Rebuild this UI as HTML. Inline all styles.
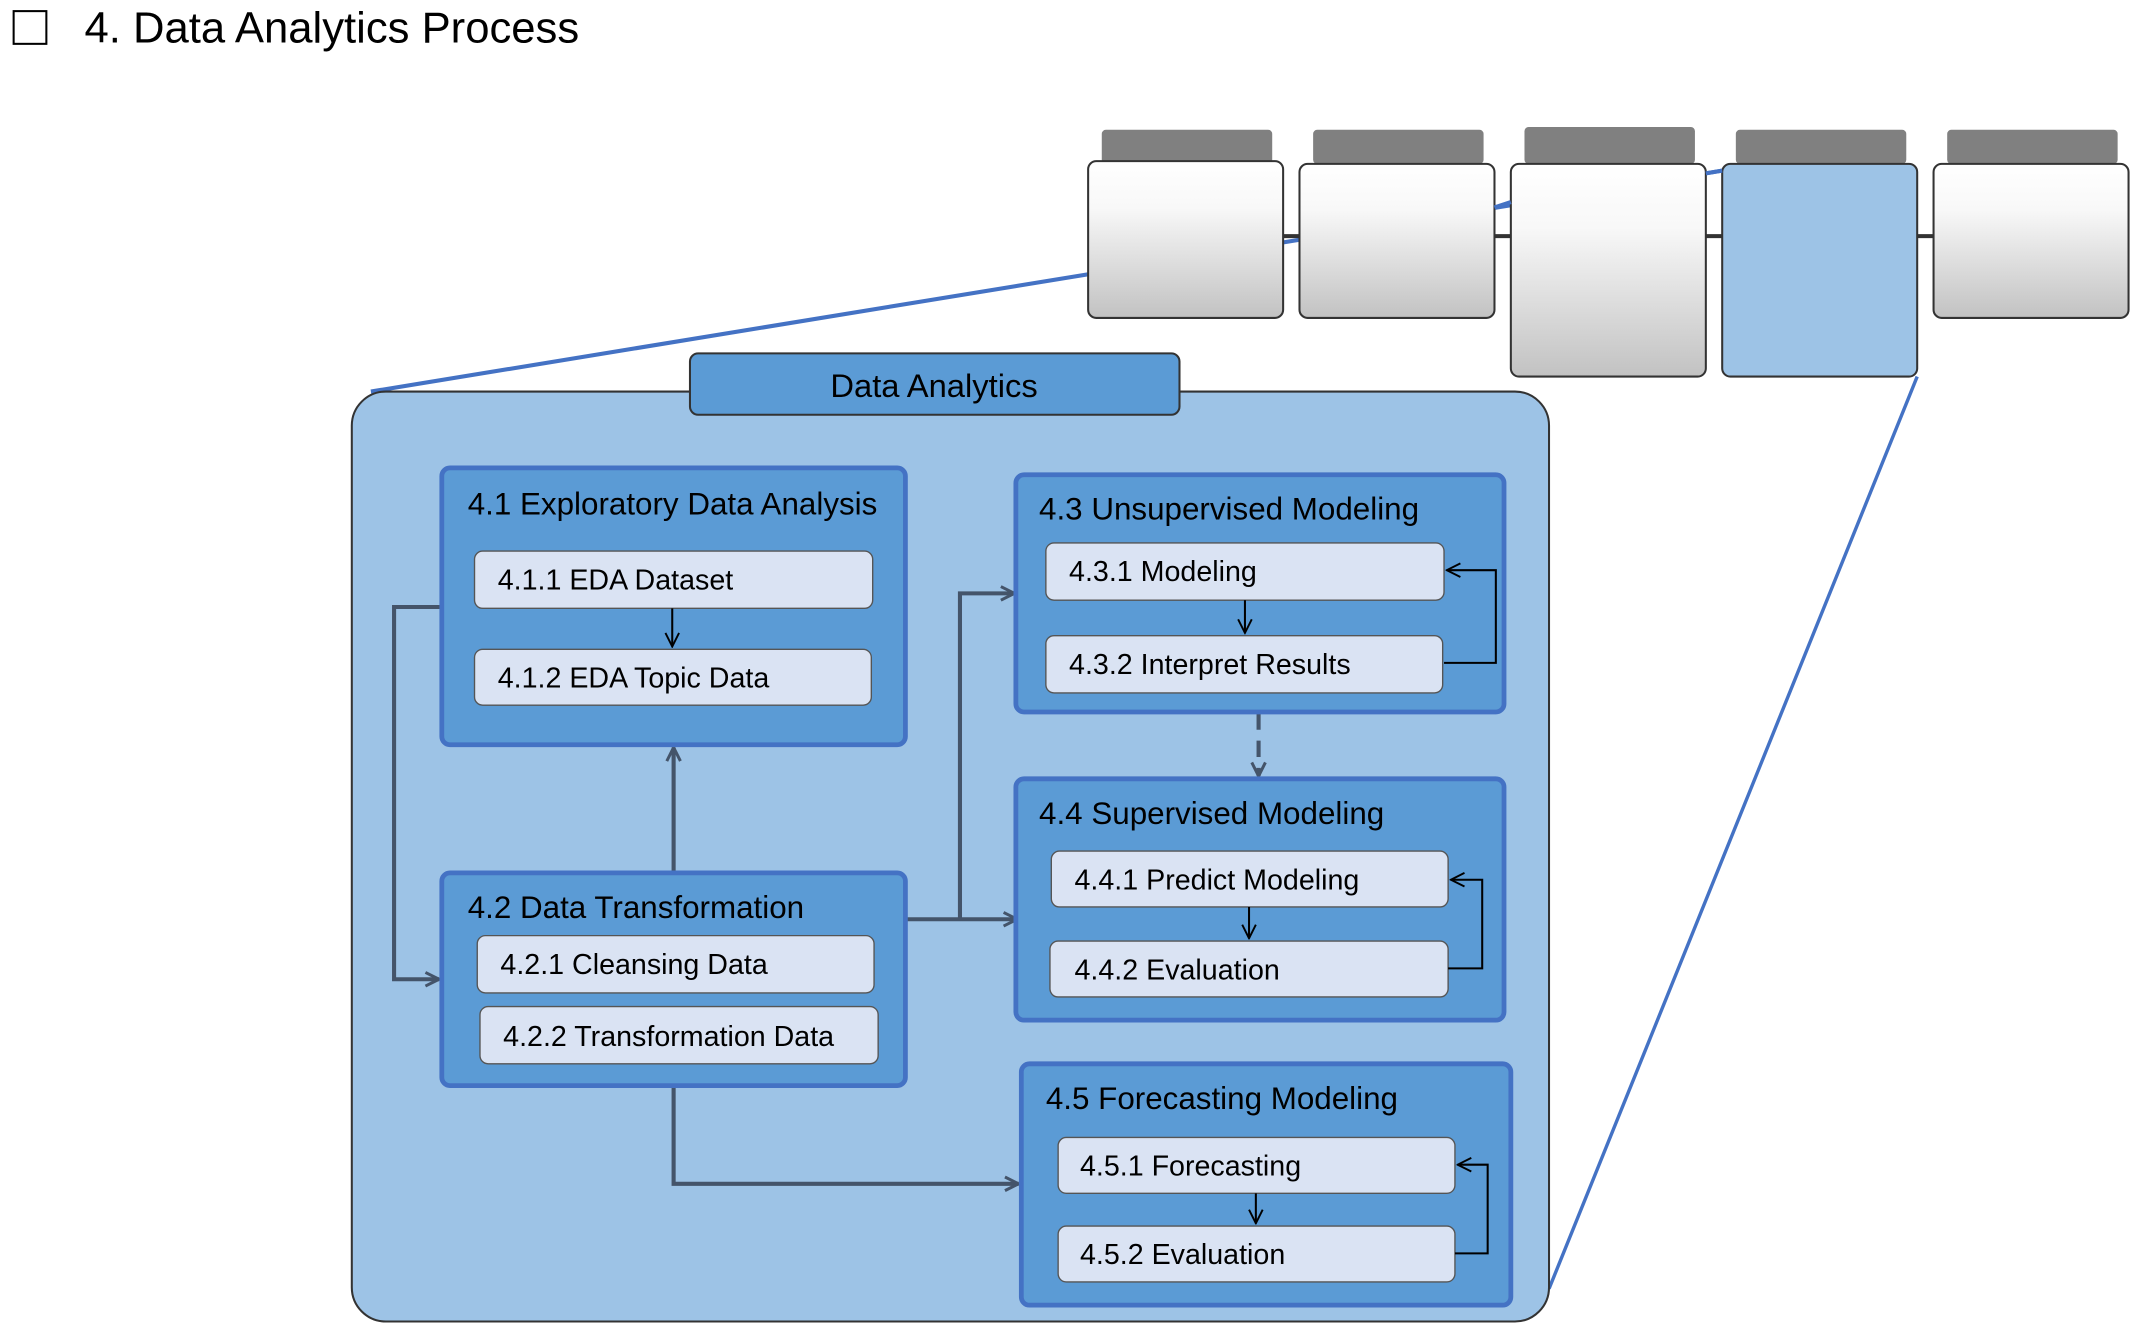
<!DOCTYPE html>
<html><head><meta charset="utf-8"><style>
html,body{margin:0;padding:0;background:#fff;}
svg{display:block;}
text{font-family:"Liberation Sans","NanumGothic",sans-serif;fill:#000;}
</style></head><body>
<svg width="2134" height="1334" viewBox="0 0 1565 978" xmlns="http://www.w3.org/2000/svg">
<defs>
<linearGradient id="g" x1="0" y1="0" x2="0" y2="1"><stop offset="0" stop-color="#ffffff"/><stop offset="0.3" stop-color="#f8f8f8"/><stop offset="1" stop-color="#c2c2c2"/></linearGradient>
<marker id="a" viewBox="0 0 12 12" refX="11" refY="6" markerWidth="12" markerHeight="12" markerUnits="userSpaceOnUse" orient="auto"><path d="M1,1 L11,6 L1,11" fill="none" stroke="#44546A" stroke-width="2.2"/></marker>
<marker id="b" viewBox="0 0 12 12" refX="11" refY="6" markerWidth="12" markerHeight="12" markerUnits="userSpaceOnUse" orient="auto"><path d="M1,1 L11,6 L1,11" fill="none" stroke="#000" stroke-width="1.4"/></marker>
</defs>
<rect x="10" y="8" width="24" height="24" fill="none" stroke="#000" stroke-width="1.5"/>
<text x="62" y="31" font-size="32">4. Data Analytics Process</text>

<!-- zoom lines -->
<line x1="272" y1="287" x2="1263" y2="125" stroke="#4472C4" stroke-width="3"/>
<line x1="1406" y1="276" x2="1136" y2="945" stroke="#4472C4" stroke-width="2.5"/>
<!-- top connector -->
<line x1="941" y1="173" x2="1418" y2="173" stroke="#333" stroke-width="3"/>
<g fill="#808080">
<rect x="808" y="95" width="125" height="25" rx="3"/>
<rect x="963" y="95" width="125" height="25" rx="3"/>
<rect x="1118" y="93" width="125" height="27" rx="3"/>
<rect x="1273" y="95" width="125" height="25" rx="3"/>
<rect x="1428" y="95" width="125" height="25" rx="3"/>
</g>
<g stroke="#333" stroke-width="1.5">
<rect x="798" y="118" width="143" height="115" rx="6" fill="url(#g)"/>
<rect x="953" y="120" width="143" height="113" rx="6" fill="url(#g)"/>
<rect x="1108" y="120" width="143" height="156" rx="6" fill="url(#g)"/>
<rect x="1263" y="120" width="143" height="156" rx="6" fill="#9DC3E6"/>
<rect x="1418" y="120" width="143" height="113" rx="6" fill="url(#g)"/>
</g>
<line x1="1096" y1="152" x2="1108" y2="148" stroke="#4472C4" stroke-width="3"/>
<line x1="1251" y1="127" x2="1263" y2="125" stroke="#4472C4" stroke-width="3"/>

<!-- main container -->
<rect x="258" y="287" width="878" height="682" rx="25" fill="#9DC3E6" stroke="#333" stroke-width="1.5"/>
<rect x="506" y="259" width="359" height="45" rx="6" fill="#5B9BD5" stroke="#333" stroke-width="1.5"/>
<text x="685" y="291" font-size="24" text-anchor="middle">Data Analytics</text>

<!-- connectors -->
<g fill="none" stroke="#44546A" stroke-width="3">
<polyline points="324,445 289,445 289,718 322,718" marker-end="url(#a)"/>
<line x1="494" y1="640" x2="494" y2="548" marker-end="url(#a)"/>
<polyline points="664,674 746,674" marker-end="url(#a)"/>
<polyline points="704,674 704,435 744,435" marker-end="url(#a)"/>
<polyline points="494,796 494,868 747,868" marker-end="url(#a)"/>
<line x1="923" y1="523" x2="923" y2="569" stroke-dasharray="12,8" marker-end="url(#a)"/>
</g>

<!-- groups -->
<g fill="#5B9BD5" stroke="#4472C4" stroke-width="3.5">
<rect x="324" y="343" width="340" height="203" rx="6"/>
<rect x="324" y="640" width="340" height="156" rx="6"/>
<rect x="745" y="348" width="358" height="174" rx="6"/>
<rect x="745" y="571" width="358" height="177" rx="6"/>
<rect x="749" y="780" width="359" height="177" rx="6"/>
</g>
<g font-size="23">
<text x="343" y="377">4.1 Exploratory Data Analysis</text>
<text x="343" y="673">4.2 Data Transformation</text>
<text x="762" y="381">4.3 Unsupervised Modeling</text>
<text x="762" y="604">4.4 Supervised Modeling</text>
<text x="767" y="813">4.5 Forecasting Modeling</text>
</g>
<g fill="#DAE3F3" stroke="#555" stroke-width="1">
<rect x="348" y="404" width="292" height="42" rx="6"/>
<rect x="348" y="476" width="291" height="41" rx="6"/>
<rect x="350" y="686" width="291" height="42" rx="6"/>
<rect x="352" y="738" width="292" height="42" rx="6"/>
<rect x="767" y="398" width="292" height="42" rx="6"/>
<rect x="767" y="466" width="291" height="42" rx="6"/>
<rect x="771" y="624" width="291" height="41" rx="6"/>
<rect x="770" y="690" width="292" height="41" rx="6"/>
<rect x="776" y="834" width="291" height="41" rx="6"/>
<rect x="776" y="899" width="291" height="41" rx="6"/>
</g>
<g font-size="21">
<text x="365" y="432">4.1.1 EDA Dataset</text>
<text x="365" y="504">4.1.2 EDA Topic Data</text>
<text x="367" y="714">4.2.1 Cleansing Data</text>
<text x="369" y="767">4.2.2 Transformation Data</text>
<text x="784" y="426">4.3.1 Modeling</text>
<text x="784" y="494">4.3.2 Interpret Results</text>
<text x="788" y="652">4.4.1 Predict Modeling</text>
<text x="788" y="718">4.4.2 Evaluation</text>
<text x="792" y="862">4.5.1 Forecasting</text>
<text x="792" y="927">4.5.2 Evaluation</text>
</g>
<g fill="none" stroke="#000" stroke-width="1.5">
<line x1="493" y1="446" x2="493" y2="474" marker-end="url(#b)"/>
<line x1="913" y1="440" x2="913" y2="464" marker-end="url(#b)"/>
<line x1="916" y1="665" x2="916" y2="688" marker-end="url(#b)"/>
<line x1="921" y1="875" x2="921" y2="897" marker-end="url(#b)"/>
<polyline points="1059,486 1097,486 1097,418 1061,418" marker-end="url(#b)"/>
<polyline points="1062,710 1087,710 1087,645 1064,645" marker-end="url(#b)"/>
<polyline points="1067,919 1091,919 1091,854 1069,854" marker-end="url(#b)"/>
</g>
</svg>
</body></html>
